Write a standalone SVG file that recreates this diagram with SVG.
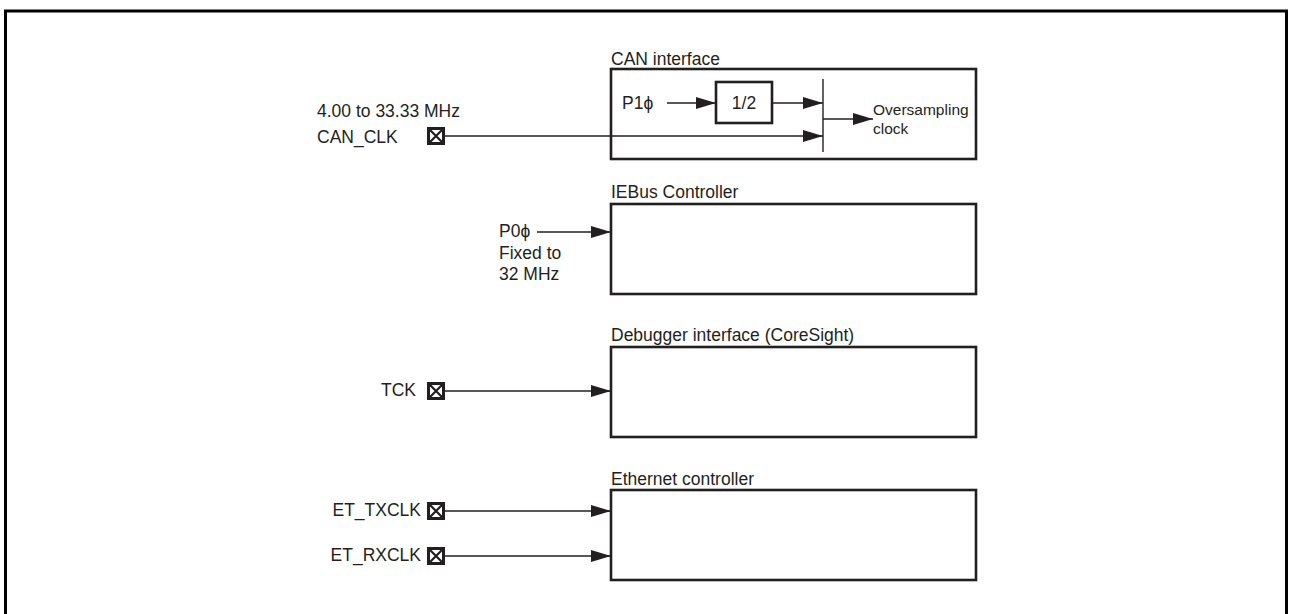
<svg xmlns="http://www.w3.org/2000/svg" width="1289" height="614" viewBox="0 0 1289 614">
<style>
text{font-family:"Liberation Sans",Arial,sans-serif;font-size:17.5px;fill:#231f20}
.sm{font-size:15.5px}
.box{fill:#fff;stroke:#231f20;stroke-width:2.6}
.ln{fill:none;stroke:#231f20;stroke-width:1.4}
.pin{fill:#fff;stroke:#231f20;stroke-width:3}
.px{stroke:#231f20;stroke-width:2.2}
</style>
<defs>
<marker id="ah" markerUnits="userSpaceOnUse" markerWidth="21" markerHeight="13" refX="20" refY="6" orient="auto" viewBox="0 0 21 12">
<path d="M0,0 L20,6 L0,12 Z" fill="#231f20"/>
</marker>
<g id="pinsym">
<rect class="pin" x="-7.5" y="-7.5" width="15" height="15"/>
<path class="px" d="M-6,-6 L6,6 M6,-6 L-6,6"/>
</g>
</defs>
<rect x="0" y="0" width="1289" height="614" fill="#fff"/>
<path d="M5.5,620 V11 H1286.5 V620" fill="none" stroke="#000" stroke-width="3"/>

<g id="can">
<text x="611" y="65">CAN interface</text>
<rect class="box" x="611" y="69" width="365" height="90"/>
<text x="622" y="109">P1ϕ</text>
<rect class="box" x="716" y="82" width="56" height="41"/>
<text x="744" y="109" text-anchor="middle">1/2</text>
<line class="ln" x1="823" y1="79" x2="823" y2="152"/>
<text class="sm" x="873" y="115">Oversampling</text>
<text class="sm" x="873" y="134">clock</text>
</g>

<g id="iebus">
<text x="611" y="198">IEBus Controller</text>
<rect class="box" x="611" y="204" width="365" height="90"/>
<text x="499" y="237">P0ϕ</text>
<text x="499" y="259">Fixed to</text>
<text x="499" y="280">32 MHz</text>
</g>

<g id="debugger">
<text x="611" y="341">Debugger interface (CoreSight)</text>
<rect class="box" x="611" y="347" width="365" height="90"/>
</g>

<g id="ethernet">
<text x="611" y="485">Ethernet controller</text>
<rect class="box" x="611" y="490" width="365" height="90"/>
</g>

<g id="pins">
<text x="317" y="117">4.00 to 33.33 MHz</text>
<text x="317" y="143">CAN_CLK</text>
<use href="#pinsym" x="436" y="136"/>
<text x="416" y="396" text-anchor="end">TCK</text>
<use href="#pinsym" x="436" y="391"/>
<text x="421" y="516" text-anchor="end">ET_TXCLK</text>
<use href="#pinsym" x="436" y="511"/>
<text x="421" y="561" text-anchor="end">ET_RXCLK</text>
<use href="#pinsym" x="436" y="556"/>
</g>

<g id="connectors">
<line class="ln" x1="667" y1="103" x2="716" y2="103" marker-end="url(#ah)"/>
<line class="ln" x1="772" y1="103" x2="823" y2="103" marker-end="url(#ah)"/>
<line class="ln" x1="444" y1="136" x2="823" y2="136" marker-end="url(#ah)"/>
<line class="ln" x1="823" y1="119" x2="873" y2="119" marker-end="url(#ah)"/>
<line class="ln" x1="537" y1="232" x2="611" y2="232" marker-end="url(#ah)"/>
<line class="ln" x1="444" y1="391" x2="611" y2="391" marker-end="url(#ah)"/>
<line class="ln" x1="444" y1="511" x2="611" y2="511" marker-end="url(#ah)"/>
<line class="ln" x1="444" y1="556" x2="611" y2="556" marker-end="url(#ah)"/>
</g>
</svg>
